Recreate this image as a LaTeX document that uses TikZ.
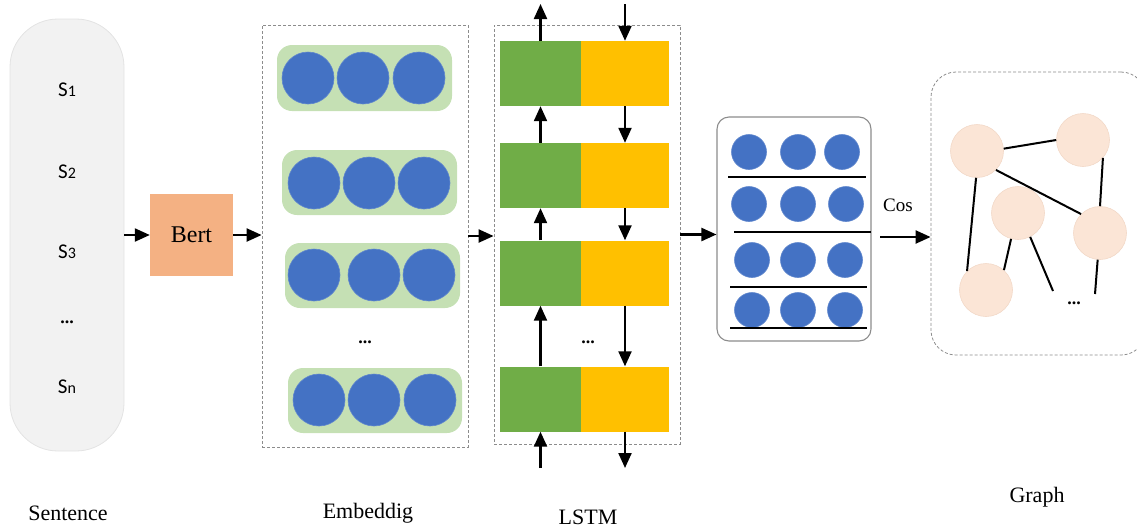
\documentclass[tikz,border=0pt]{standalone}
\usepackage{fontspec}
\setmainfont{Liberation Serif}
\newfontfamily\labelsans{Carlito}
\usetikzlibrary{arrows.meta,positioning,calc}

\definecolor{pillgray}{HTML}{F2F2F2}
\definecolor{pilledge}{HTML}{E3E3E3}
\definecolor{bertorange}{HTML}{F4B183}
\definecolor{embgreen}{HTML}{C5E0B4}
\definecolor{dotblue}{HTML}{4472C4}
\definecolor{cellgreen}{HTML}{70AD47}
\definecolor{cellyellow}{HTML}{FFC000}
\definecolor{nodepeach}{HTML}{FBE5D6}
\definecolor{nodeedge}{HTML}{F2D9C8}
\definecolor{framegray}{HTML}{8C8C8C}

\tikzset{
  flow/.style={line width=2.2pt, -{Triangle[length=15pt,width=13pt]}},
  dashbox/.style={draw=framegray, line width=0.8pt, dash pattern=on 3pt off 2pt},
  blueball/.style={circle, fill=dotblue, draw=dotblue!85!white, line width=0.6pt, minimum size=#1, inner sep=0pt},
  blueball/.default=52pt,
  embrow/.style={fill=embgreen, rounded corners=15pt},
  lcell/.style={rectangle, fill=cellgreen, minimum width=81pt, minimum height=65pt, inner sep=0pt},
  rcell/.style={rectangle, fill=cellyellow, minimum width=88pt, minimum height=65pt, inner sep=0pt},
  gnode/.style={circle, fill=nodepeach, draw=nodeedge, line width=0.6pt, minimum size=53pt, inner sep=0pt},
  gedge/.style={line width=2pt},
  caption/.style={font=\fontsize{22}{26}\selectfont},
  slabel/.style={font=\labelsans\fontsize{21}{24}\selectfont},
  dots/.style={font=\bfseries\fontsize{18}{20}\selectfont},
}

\newcommand{\sidx}[1]{S{\fontsize{16}{18}\selectfont#1}}

\begin{document}
\begin{tikzpicture}[x=1pt,y=-1pt]
\useasboundingbox (0,0) rectangle (1137,528);

% ---- input sentences ----
\node[draw=pilledge, fill=pillgray, line width=0.8pt, rounded corners=48pt,
      minimum width=114pt, minimum height=432pt, inner sep=0pt] (pill) at (67,235) {};
\node[slabel] (s1) at (67,90)  {\sidx{1}};
\node[slabel] (s2) at (67,172) {\sidx{2}};
\node[slabel] (s3) at (67,252) {\sidx{3}};
\node[dots]   (sd) at (67,322) {...};
\node[slabel] (sn) at (67,387) {\sidx{n}};
\node[caption] (capsent) at (68,513) {Sentence};

% ---- encoder ----
\node[fill=bertorange, minimum width=83pt, minimum height=82pt, inner sep=0pt,
      font=\fontsize{24}{28}\selectfont] (bert) at (191.5,235) {Bert};

% ---- embedding block ----
\node[dashbox, minimum width=206pt, minimum height=422pt, inner sep=0pt] (emb) at (365,236) {};
\fill[embrow] (277,45) rectangle (452,111);
\fill[embrow] (282,150) rectangle (457,215);
\fill[embrow] (285,243) rectangle (460,308);
\fill[embrow] (288,368) rectangle (462,433);
\node[blueball] (e11) at (308,78) {};
\node[blueball] (e12) at (363,78) {};
\node[blueball] (e13) at (419,78) {};
\node[blueball] (e21) at (314,183) {};
\node[blueball] (e22) at (369,183) {};
\node[blueball] (e23) at (424,183) {};
\node[blueball] (e31) at (314,275) {};
\node[blueball] (e32) at (374,275) {};
\node[blueball] (e33) at (429,275) {};
\node[blueball] (e41) at (319,400) {};
\node[blueball] (e42) at (374,400) {};
\node[blueball] (e43) at (430,400) {};
\node[dots] (edots) at (365,342) {...};
\node[caption] (capemb) at (368,513) {Embeddig};

% ---- bidirectional LSTM ----
\node[dashbox, minimum width=186pt, minimum height=419pt, inner sep=0pt] (lstm) at (587,234.5) {};
\node[lcell] (g1) at (540.5,73.5)  {};
\node[rcell] (y1) at (625,73.5)    {};
\node[lcell] (g2) at (540.5,175.5) {};
\node[rcell] (y2) at (625,175.5)   {};
\node[lcell] (g3) at (540.5,273)   {};
\node[rcell] (y3) at (625,273)     {};
\node[lcell] (g4) at (540.5,399)   {};
\node[rcell] (y4) at (625,399)     {};
\node[dots] (ldots) at (588,342) {...};
\node[caption] (caplstm) at (588,517) {LSTM};

\coordinate (gtop) at (540.5,4);
\coordinate (ytop) at (625,4);
\coordinate (gbot) at (540.5,468);
\coordinate (ybot) at (625,468);

\draw[flow] (g1.north) -- (gtop);
\draw[flow] (ytop) -- (y1.north);
\draw[flow] (g2.north) -- (g1.south);
\draw[flow] (y1.south) -- (y2.north);
\draw[flow] (g3.north) -- (g2.south);
\draw[flow] (y2.south) -- (y3.north);
\draw[flow] (g4.north) -- (g3.south);
\draw[flow] (y3.south) -- (y4.north);
\draw[flow] (gbot) -- (g4.south);
\draw[flow] (y4.south) -- (ybot);

% ---- sentence vectors ----
\node[draw=framegray, line width=1.1pt, rounded corners=12pt, fill=white,
      minimum width=154pt, minimum height=224pt, inner sep=0pt] (mat) at (794,229) {};
\node[blueball=35pt] (m11) at (749,152) {};
\node[blueball=35pt] (m12) at (798,152) {};
\node[blueball=35pt] (m13) at (842,152) {};
\node[blueball=35pt] (m21) at (749,204) {};
\node[blueball=35pt] (m22) at (798,204) {};
\node[blueball=35pt] (m23) at (846,204) {};
\node[blueball=35pt] (m31) at (752,260) {};
\node[blueball=35pt] (m32) at (798,260) {};
\node[blueball=35pt] (m33) at (845,260) {};
\node[blueball=35pt] (m41) at (752,310) {};
\node[blueball=35pt] (m42) at (798,310) {};
\node[blueball=35pt] (m43) at (845,310) {};
\draw[line width=1.5pt] (728,177) -- (866,177);
\draw[line width=1.5pt] (734,232) -- (871,232);
\draw[line width=1.5pt] (730,287) -- (867,287);
\draw[line width=1.5pt] (730,328) -- (867,328);

% ---- graph ----
\node[dashbox, rounded corners=25pt, minimum width=215pt, minimum height=283pt,
      inner sep=0pt] (graph) at (1038.5,213.5) {};
\node[gnode] (va) at (977,151)  {};
\node[gnode] (vb) at (1083,140) {};
\node[gnode] (vc) at (1018,213) {};
\node[gnode] (vd) at (1100,233) {};
\node[gnode] (ve) at (986,290)  {};
\coordinate (cfree) at (1053,291);
\coordinate (dfree) at (1095,294);
\draw[gedge] (va.5) -- (vb.180);
\draw[gedge] (va.-45) -- (vd.135);
\draw[gedge] (va.-92) -- (ve.135);
\draw[gedge] (vb.-42) -- (vd.90);
\draw[gedge] (vc.-105) -- (ve.48);
\draw[gedge] (vc.-63) -- (cfree);
\draw[gedge] (vd.-95) -- (dfree);
\node[dots] (gdots) at (1074,303) {...};
\node[caption] (capgraph) at (1037,497) {Graph};

% ---- main flow ----
\draw[flow] (pill.east) -- (bert.west);
\draw[flow] (bert.east) -- (bert.east -| emb.west);
\draw[flow] (emb.east) -- (emb.east -| lstm.west);
\draw[flow] (lstm.east) -- (lstm.east -| mat.west);
\coordinate (cosstart) at (880,237);
\draw[flow] (cosstart) -- (cosstart -| graph.west);
\node[font=\fontsize{19}{22}\selectfont] (cos) at (898,205) {Cos};
\end{tikzpicture}
\end{document}
